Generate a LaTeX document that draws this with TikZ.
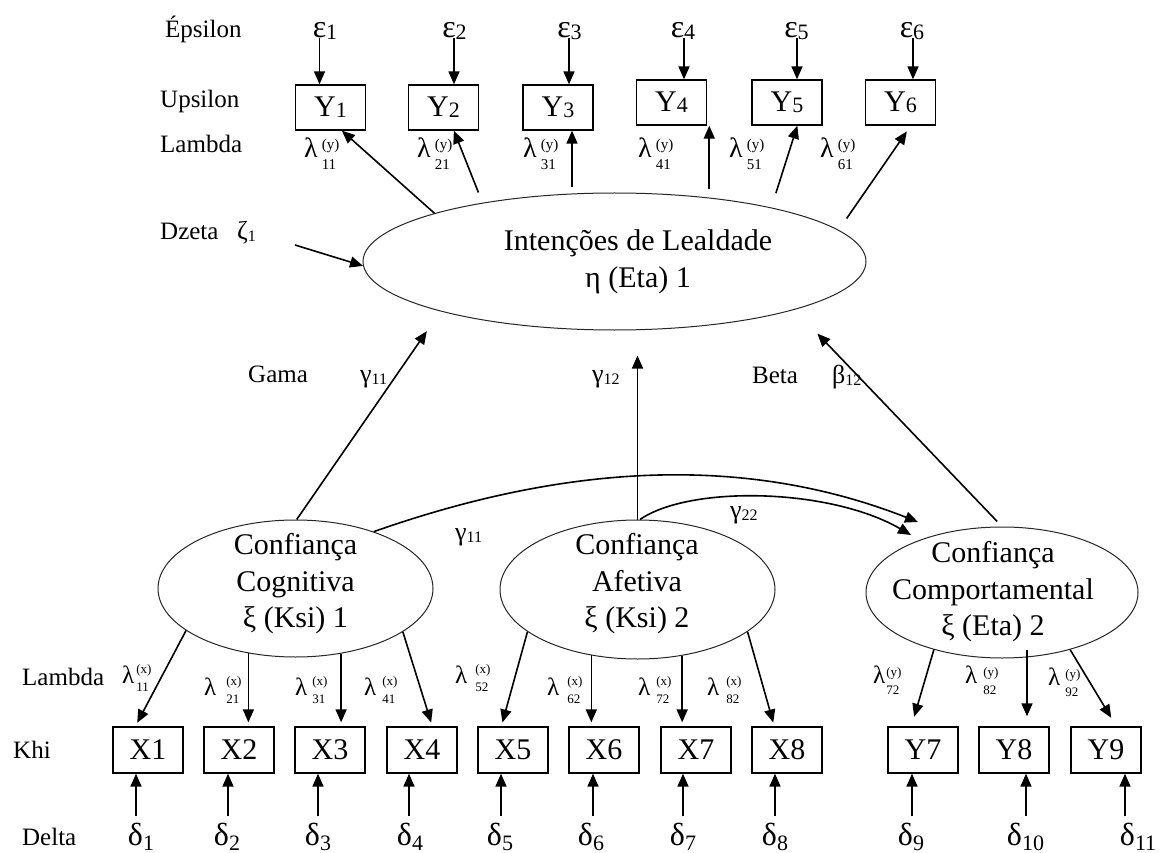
\documentclass[tikz,border=0pt]{standalone}
\usepackage{fontspec}
\setmainfont{Liberation Serif}
\usetikzlibrary{arrows.meta,shapes.geometric}
\newcommand\fs[1]{\fontsize{#1}{#1}\selectfont}
\newcommand\fsb[2]{\fontsize{#1}{#2}\selectfont}
\newcommand\ysub[1]{{\fs{22}\raisebox{-1pt}{#1}}}
\newcommand\gsub[1]{{\fs{16}\raisebox{-2pt}{#1}}}
\newcommand\dsub[1]{\rlap{\fs{22}\raisebox{-5pt}{#1}}}
\newcommand\esub[1]{\rlap{\fs{22}\raisebox{-2pt}{#1}}}
\newcommand\lamT[2]{λ\hspace{4pt}\makebox[0pt][l]{\raisebox{8pt}{\fs{15}(#1)}}\raisebox{-12pt}{\fs{15}#2}}
\newcommand\lamB[3][8]{λ\hspace{#1pt}\makebox[0pt][l]{\raisebox{10pt}{\fs{13}(#2)}}\raisebox{-8pt}{\fs{13}#3}}
\newcommand\lamC[3][6]{λ\hspace{#1pt}\makebox[0pt][l]{\raisebox{7pt}{\fs{13}(#2)}}\raisebox{-11pt}{\fs{13}#3}}
\begin{document}
\begin{tikzpicture}[x=1pt,y=-1pt,
  lab/.style={font=\fs{25}, inner sep=0pt, anchor=base west},
  box/.style={draw, line width=1.3pt, minimum width=70pt, minimum height=46pt, inner sep=0pt, font=\fs{30}},
  ell/.style={draw=black!85, ellipse, line width=1pt, inner sep=0pt},
  etxt/.style={font=\fsb{30}{36.5}, align=center, inner sep=0pt},
  arr/.style={-{Triangle[length=13pt,width=11pt]}, line width=1.6pt},
  gk/.style={font=\fs{32}, inner sep=0pt, anchor=base},
  lt/.style={font=\fs{28}, inner sep=0pt, anchor=base west},
  lb/.style={font=\fs{25}, inner sep=0pt, anchor=base west},
  gl/.style={font=\fs{26}, inner sep=0pt, anchor=base west}]
\fill[white] (0,0) rectangle (1165,853);
\useasboundingbox (0,0) rectangle (1165,853);

% row labels
\node[lab] (lEps) at (165,38) {Épsilon};
\node[lab] (lUps) at (160,108) {Upsilon};
\node[lab] (lLamT) at (160,153) {Lambda};
\node[lab] (lDz) at (160,240) {Dzeta};
\node[gl] (zeta) at (237,240) {ζ\gsub{1}};
\node[lab] (lGama) at (248,382) {Gama};
\node[gl] (g11) at (360,382) {γ\gsub{11}};
\node[gl] (g12) at (592,382) {γ\gsub{12}};
\node[lab] (lBeta) at (752,383) {Beta};
\node[gl] (b12) at (832,383) {β\gsub{12}};
\node[gl] (g11b) at (455,540) {γ\gsub{11}};
\node[gl] (g22) at (730,518) {γ\gsub{22}};
\node[lab] (lLamB) at (22,685) {Lambda};
\node[lab] (lKhi) at (13,758) {Khi};
\node[lab] (lDelta) at (22,845) {Delta};

% top boxes
\node[box, minimum height=45pt] (y1) at (330.5,107.5) {Y\ysub{1}};
\node[box, minimum height=45pt] (y2) at (443.5,107.5) {Y\ysub{2}};
\node[box, minimum height=45pt] (y3) at (558,107.5) {Y\ysub{3}};
\node[box, minimum height=45pt] (y4) at (671.5,102.5) {Y\ysub{4}};
\node[box, minimum height=45pt] (y5) at (787,102.5) {Y\ysub{5}};
\node[box, minimum height=45pt] (y6) at (900.5,102.5) {Y\ysub{6}};

% epsilons
\node[gk] (e1) at (319.5,38) {ε\esub{1}};
\node[gk] (e2) at (449,38) {ε\esub{2}};
\node[gk] (e3) at (564,38) {ε\esub{3}};
\node[gk] (e4) at (677.5,38) {ε\esub{4}};
\node[gk] (e5) at (791,38) {ε\esub{5}};
\node[gk] (e6) at (906.5,38) {ε\esub{6}};
\coordinate (a1) at ([xshift=0pt]e1.base);
\coordinate (a2) at ([xshift=5pt]e2.base);
\coordinate (a3) at ([xshift=5pt]e3.base);
\coordinate (a4) at ([xshift=6.5pt]e4.base);
\coordinate (a5) at ([xshift=6pt]e5.base);
\coordinate (a6) at ([xshift=6.5pt]e6.base);
\foreach \i in {1,...,6} \draw[arr] (a\i) -- (a\i |- y\i.north);

% top lambda labels
\node[lt] (ly1) at (304,158) {\lamT{y}{11}};
\node[lt] (ly2) at (417,158) {\lamT{y}{21}};
\node[lt] (ly3) at (523,158) {\lamT{y}{31}};
\node[lt] (ly4) at (638,158) {\lamT{y}{41}};
\node[lt] (ly5) at (729,158) {\lamT{y}{51}};
\node[lt] (ly6) at (820,158) {\lamT{y}{61}};

% ellipses
\node[ell, minimum width=503pt, minimum height=137pt] (eta) at (614.5,261.5) {};
\node[etxt] (etat) at (638,262) {Intenções de Lealdade\\η (Eta) 1};
\node[ell, minimum width=275pt, minimum height=137pt] (cog) at (295.5,588.5) {};
\node[etxt] (cogt) at (295.5,584) {Confiança\\Cognitiva\\ξ (Ksi) 1};
\node[ell, minimum width=275pt, minimum height=139pt] (aff) at (637.5,589.5) {};
\node[etxt] (afft) at (637,584) {Confiança\\Afetiva\\ξ (Ksi) 2};
\node[ell, minimum width=272pt, minimum height=131pt] (comp) at (1002,592.5) {};
\node[etxt] (compt) at (993,592) {Confiança\\Comportamental\\ξ (Eta) 2};

% arrows eta -> Y
\draw[arr] (eta.165.3) -- ([xshift=47pt]y1.south west);
\draw[arr, shorten <=11pt] (eta.156.35) -- ([xshift=46pt]y2.south west);
\draw[arr, shorten <=6pt] (eta.122.8) -- (eta.122.8 |- y3.south);
\draw[arr, shorten <=9pt] (eta.34.9) -- (eta.34.9 |- y4.south);
\draw[arr, shorten <=15pt] (eta.19.1) -- ([xshift=46pt]y5.south west);
\draw[arr, shorten <=14pt, shorten >=7pt] (eta.8.68) -- ([xshift=46pt]y6.south west);

% zeta
\coordinate (zs) at (295,245);
\draw[arr] (zs) -- (eta.181.5);

% structural paths
\draw[arr, shorten >=24pt] (cog.89) -- (eta.196.9);
\draw[arr, shorten >=25pt] (aff.north) -- (aff.north |- eta.south);
\draw[arr, shorten <=7pt, shorten >=33pt] (comp.north) -- (eta.345.8);
\coordinate (t1) at (918,522);
\coordinate (t2) at (911,535);
\draw[arr] (cog.36.3) .. controls (560,466) and (740,452) .. (t1);
\draw[arr] (aff.88) .. controls (690,485) and (830,488) .. (t2);

% bottom boxes
\node[box] (x1) at (148,750) {X1};
\node[box] (x2) at (239,750) {X2};
\node[box] (x3) at (330,750) {X3};
\node[box] (x4) at (422,750) {X4};
\node[box] (x5) at (513,750) {X5};
\node[box] (x6) at (604,750) {X6};
\node[box] (x7) at (696,750) {X7};
\node[box] (x8) at (787,750) {X8};
\node[box] (y7) at (923,750) {Y7};
\node[box] (y8) at (1014,750) {Y8};
\node[box] (y9) at (1106,750) {Y9};

% loadings
\draw[arr, shorten >=4pt] (cog.201.4) -- ([xshift=23pt]x1.north west);
\draw[arr, shorten >=4pt] (cog.234.2) -- (cog.234.2 |- x2.north);
\draw[arr, shorten >=4pt] (cog.305.1) -- (cog.305.1 |- x3.north);
\draw[arr, shorten >=4pt] (cog.338.8) -- ([xshift=46pt]x4.north west);
\draw[arr, shorten >=4pt] (aff.201.3) -- ([xshift=24pt]x5.north west);
\draw[arr, shorten >=4pt] (aff.235.9) -- (aff.235.9 |- x6.north);
\draw[arr, shorten >=4pt] (aff.304.75) -- (aff.304.75 |- x7.north);
\draw[arr, shorten >=4pt] (aff.339.2) -- ([xshift=23pt]x8.north west);
\draw[arr, shorten >=10pt] (comp.220.8) -- ([xshift=24pt]y7.north west);
\coordinate (y8s) at ([xshift=25pt,yshift=9pt]comp.south);
\draw[arr, shorten >=10pt] (y8s) -- (y8s |- y8.north);
\draw[arr, shorten >=10pt] (comp.320.6) -- ([xshift=46pt]y9.north west);

% bottom lambda labels
\node[lb] (lx1) at (122,683) {\lamB[2]{x}{11}};
\node[lb] (lx2) at (204,695) {\lamB[10]{x}{21}};
\node[lb] (lx3) at (295,695) {\lamB[5]{x}{31}};
\node[lb] (lx4) at (364,695) {\lamB[6]{x}{41}};
\node[lb] (lx5) at (455,683) {\lamB[8]{x}{52}};
\node[lb] (lx6) at (547,695) {\lamB[8]{x}{62}};
\node[lb] (lx7) at (638,695) {\lamB[6]{x}{72}};
\node[lb] (lx8) at (707,695) {\lamB[7]{x}{82}};
\node[lb] (lyb7) at (873,683) {\lamC[1]{y}{72}};
\node[lb] (lyb8) at (965,683) {\lamC[6]{y}{82}};
\node[lb] (lyb9) at (1048,685) {\lamC[5]{y}{92}};

% deltas
\node[gk] (d1) at (135.5,845) {δ\dsub{1}};
\node[gk] (d2) at (221.5,845) {δ\dsub{2}};
\node[gk] (d3) at (312.5,845) {δ\dsub{3}};
\node[gk] (d4) at (404.5,845) {δ\dsub{4}};
\node[gk] (d5) at (494.5,845) {δ\dsub{5}};
\node[gk] (d6) at (585.5,845) {δ\dsub{6}};
\node[gk] (d7) at (677.5,845) {δ\dsub{7}};
\node[gk] (d8) at (769.5,845) {δ\dsub{8}};
\node[gk] (d9) at (905.5,845) {δ\dsub{9}};
\node[gk] (d10) at (1014.5,845) {δ\dsub{10}};
\node[gk] (d11) at (1127.5,845) {δ\dsub{11}};
\coordinate (b1) at ([xshift=0.5pt]d1.north);
\coordinate (b2) at ([xshift=6.5pt]d2.north);
\coordinate (b3) at ([xshift=5.5pt]d3.north);
\coordinate (b4) at ([xshift=4.5pt]d4.north);
\coordinate (b5) at ([xshift=6.5pt]d5.north);
\coordinate (b6) at ([xshift=7.5pt]d6.north);
\coordinate (b7) at ([xshift=5.5pt]d7.north);
\coordinate (b8) at ([xshift=5.5pt]d8.north);
\coordinate (b9) at ([xshift=6.5pt]d9.north);
\coordinate (b10) at ([xshift=11.5pt]d10.north);
\coordinate (b11) at ([xshift=-2.5pt]d11.north);
\draw[arr, shorten <=6pt] (b1) -- (b1 |- x1.south);
\draw[arr, shorten <=6pt] (b2) -- (b2 |- x2.south);
\draw[arr, shorten <=6pt] (b3) -- (b3 |- x3.south);
\draw[arr, shorten <=6pt] (b4) -- (b4 |- x4.south);
\draw[arr, shorten <=6pt] (b5) -- (b5 |- x5.south);
\draw[arr, shorten <=6pt] (b6) -- (b6 |- x6.south);
\draw[arr, shorten <=6pt] (b7) -- (b7 |- x7.south);
\draw[arr, shorten <=6pt] (b8) -- (b8 |- x8.south);
\draw[arr, shorten <=6pt] (b9) -- (b9 |- y7.south);
\draw[arr, shorten <=6pt] (b10) -- (b10 |- y8.south);
\draw[arr, shorten <=6pt] (b11) -- (b11 |- y9.south);
\end{tikzpicture}
\end{document}
